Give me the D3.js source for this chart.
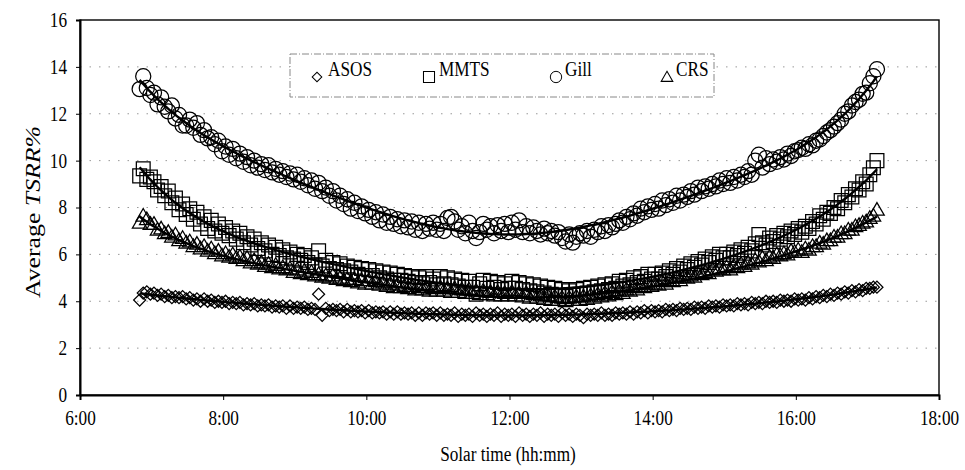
<!DOCTYPE html>
<html>
<head>
<meta charset="utf-8">
<script src="https://cdn.jsdelivr.net/npm/d3@7"></script>
<style>
  html, body { margin: 0; background: #fff; }
  svg { display: block; font-family: "Liberation Serif", "Times New Roman", serif; }
</style>
</head>
<body>
<svg id="chart" width="965" height="470"></svg>
<script>
// Three-minute solar-time stamps of the averaged records
const times = [
  "6:50","6:53","6:56","6:59",
  "7:02","7:05","7:08","7:11","7:14","7:17","7:20","7:23","7:26","7:29","7:32","7:35","7:38","7:41","7:44","7:47","7:50","7:53","7:56","7:59",
  "8:02","8:05","8:08","8:11","8:14","8:17","8:20","8:23","8:26","8:29","8:32","8:35","8:38","8:41","8:44","8:47","8:50","8:53","8:56","8:59",
  "9:02","9:05","9:08","9:11","9:14","9:17","9:20","9:23","9:26","9:29","9:32","9:35","9:38","9:41","9:44","9:47","9:50","9:53","9:56","9:59",
  "10:02","10:05","10:08","10:11","10:14","10:17","10:20","10:23","10:26","10:29","10:32","10:35","10:38","10:41","10:44","10:47","10:50","10:53","10:56","10:59",
  "11:02","11:05","11:08","11:11","11:14","11:17","11:20","11:23","11:26","11:29","11:32","11:35","11:38","11:41","11:44","11:47","11:50","11:53","11:56","11:59",
  "12:02","12:05","12:08","12:11","12:14","12:17","12:20","12:23","12:26","12:29","12:32","12:35","12:38","12:41","12:44","12:47","12:50","12:53","12:56","12:59",
  "13:02","13:05","13:08","13:11","13:14","13:17","13:20","13:23","13:26","13:29","13:32","13:35","13:38","13:41","13:44","13:47","13:50","13:53","13:56","13:59",
  "14:02","14:05","14:08","14:11","14:14","14:17","14:20","14:23","14:26","14:29","14:32","14:35","14:38","14:41","14:44","14:47","14:50","14:53","14:56","14:59",
  "15:02","15:05","15:08","15:11","15:14","15:17","15:20","15:23","15:26","15:29","15:32","15:35","15:38","15:41","15:44","15:47","15:50","15:53","15:56","15:59",
  "16:02","16:05","16:08","16:11","16:14","16:17","16:20","16:23","16:26","16:29","16:32","16:35","16:38","16:41","16:44","16:47","16:50","16:53","16:56","16:59",
  "17:02","17:05","17:08"
];

// Average TSRR% per radiation shield, one row per hour
const asos = [
  4.05,4.35,4.4,4.3,
  4.35,4.25,4.3,4.2,4.25,4.15,4.2,4.15,4.2,4.1,4.15,4.05,4.1,4.0,4.1,4.0,4.05,3.95,4.0,3.95,
  4.0,3.9,3.95,3.9,3.95,3.85,3.9,3.85,3.9,3.8,3.85,3.8,3.85,3.75,3.8,3.75,3.8,3.7,3.8,3.7,
  3.75,3.7,3.75,3.65,3.7,3.65,4.3,3.4,3.7,3.6,3.65,3.6,3.65,3.55,3.65,3.55,3.6,3.55,3.6,3.5,
  3.6,3.5,3.55,3.5,3.55,3.45,3.55,3.45,3.55,3.45,3.5,3.45,3.5,3.4,3.5,3.4,3.5,3.45,3.5,3.4,
  3.5,3.4,3.45,3.4,3.5,3.35,3.45,3.4,3.45,3.35,3.5,3.4,3.45,3.35,3.45,3.4,3.5,3.35,3.45,3.4,
  3.45,3.35,3.5,3.4,3.45,3.35,3.45,3.4,3.5,3.35,3.45,3.4,3.45,3.35,3.5,3.4,3.45,3.35,3.45,3.4,
  3.3,3.45,3.4,3.45,3.4,3.5,3.4,3.45,3.4,3.5,3.45,3.5,3.45,3.55,3.45,3.55,3.5,3.6,3.5,3.6,
  3.55,3.6,3.55,3.65,3.6,3.65,3.6,3.7,3.65,3.7,3.65,3.75,3.7,3.75,3.7,3.8,3.75,3.8,3.75,3.85,
  3.8,3.85,3.8,3.9,3.85,3.9,3.85,3.95,3.9,3.95,3.9,4.0,3.95,4.0,3.95,4.05,4.0,4.05,4.0,4.1,
  4.05,4.1,4.05,4.15,4.1,4.2,4.15,4.25,4.2,4.3,4.25,4.35,4.3,4.4,4.35,4.45,4.4,4.5,4.45,4.55,
  4.55,4.6,4.6
];

const mmts = [
  9.35,9.65,9.2,9.3,
  9.1,8.75,8.9,8.5,8.7,8.2,8.4,7.9,8.15,7.7,7.95,7.5,7.8,7.3,7.6,7.1,7.45,7.0,7.3,6.9,
  7.15,6.8,7.0,6.65,6.9,6.5,6.75,6.4,6.65,6.25,6.5,6.15,6.4,6.0,6.3,5.95,6.2,5.85,6.1,5.8,
  6.0,5.75,5.95,5.65,5.85,5.55,6.15,5.5,5.75,5.4,5.65,5.35,5.6,5.3,5.5,5.25,5.45,5.15,5.4,5.1,
  5.35,5.1,5.3,5.0,5.25,4.95,5.2,4.9,5.15,4.9,5.1,4.85,5.05,4.8,5.0,4.75,5.05,4.8,4.95,4.7,
  5.05,4.75,5.0,4.7,4.95,4.65,4.9,4.6,4.85,4.6,4.3,4.75,4.9,4.55,4.85,4.6,4.8,4.5,4.75,4.55,
  4.85,4.55,4.8,4.5,4.75,4.45,4.7,4.4,4.65,4.35,4.6,4.3,4.55,4.25,4.5,4.2,4.45,4.25,4.5,4.3,
  4.55,4.35,4.6,4.4,4.65,4.45,4.7,4.5,4.75,4.55,4.85,4.65,4.9,4.7,5.0,4.8,5.05,4.85,5.15,4.95,
  5.15,4.95,5.2,5.05,5.3,5.15,5.4,5.25,5.5,5.35,5.6,5.45,5.7,5.55,5.8,5.65,5.9,5.75,6.0,5.85,
  6.0,5.85,6.1,5.95,6.2,6.05,6.3,6.15,6.45,6.85,6.5,6.4,6.7,6.55,6.8,6.65,6.9,6.75,7.0,6.85,
  7.1,6.95,7.2,7.1,7.4,7.3,7.65,7.5,7.8,7.75,8.0,7.95,8.3,8.2,8.55,8.45,8.8,8.75,9.1,9.0,
  9.4,9.7,10.0
];

const gill = [
  13.05,13.6,13.1,12.8,
  12.9,12.4,12.7,12.3,12.1,12.35,11.8,11.95,11.5,11.5,11.75,11.4,11.6,11.1,11.3,10.95,11.0,10.7,10.85,10.4,
  10.6,10.25,10.5,10.1,10.3,9.95,10.15,9.8,10.0,9.7,9.85,9.6,9.8,9.5,9.65,9.4,9.55,9.3,9.45,9.2,
  9.4,9.1,9.25,8.95,9.15,8.8,9.05,8.7,8.85,8.5,8.7,8.3,8.5,8.15,8.35,7.95,8.2,7.85,8.05,7.75,
  7.9,7.6,7.8,7.45,7.7,7.35,7.6,7.3,7.5,7.2,7.45,7.15,7.4,7.05,7.35,7.0,7.3,7.1,7.35,7.05,
  7.3,7.0,7.55,7.6,7.4,7.05,7.2,6.9,7.35,7.0,6.7,6.95,7.3,7.05,7.2,6.9,7.25,7.0,7.3,6.95,
  7.35,7.05,7.45,6.95,7.2,6.9,7.15,7.0,6.85,7.1,6.9,7.0,6.8,6.95,6.7,6.55,6.85,6.5,6.75,6.9,
  6.8,7.0,6.75,7.05,6.95,7.2,7.0,7.25,7.15,7.3,7.45,7.35,7.6,7.5,7.75,7.65,7.95,7.8,8.05,7.9,
  8.15,7.95,8.3,8.1,8.35,8.2,8.5,8.3,8.55,8.45,8.7,8.55,8.85,8.7,8.9,8.8,9.0,8.9,9.15,9.0,
  9.25,9.05,9.3,9.15,9.4,9.3,9.55,9.4,10.0,10.25,9.7,10.1,9.85,10.05,9.95,10.15,10.05,10.3,10.2,10.4,
  10.45,10.55,10.5,10.7,10.65,10.85,10.9,11.05,11.2,11.3,11.45,11.6,11.75,12.0,12.1,12.35,12.5,12.6,12.85,12.9,
  13.3,13.6,13.9
];

const crs = [
  7.3,7.6,7.45,7.25,
  7.25,7.0,7.05,6.85,6.9,6.7,6.8,6.55,6.65,6.45,6.5,6.3,6.4,6.2,6.3,6.1,6.2,6.0,6.1,5.9,
  6.0,5.85,5.95,5.8,5.85,5.7,5.8,5.6,5.7,5.55,5.6,5.45,5.55,5.4,5.5,5.35,5.4,5.3,5.35,5.2,
  5.3,5.15,5.25,5.1,5.2,5.05,5.1,5.0,5.05,4.95,5.05,4.9,4.95,4.85,4.9,4.8,4.9,4.75,4.85,4.7,
  4.85,4.7,4.8,4.65,4.75,4.6,4.7,4.55,4.65,4.55,4.6,4.5,4.6,4.45,4.55,4.45,4.55,4.4,4.5,4.4,
  4.55,4.4,4.5,4.35,4.5,4.35,4.45,4.3,4.45,4.3,4.4,4.25,4.4,4.25,4.35,4.2,4.35,4.2,4.3,4.2,
  4.35,4.2,4.3,4.15,4.3,4.1,4.25,4.1,4.2,4.05,4.2,4.0,4.15,4.0,4.1,3.95,4.1,4.0,4.15,4.0,
  4.15,4.05,4.2,4.1,4.25,4.15,4.3,4.2,4.35,4.25,4.4,4.3,4.45,4.4,4.55,4.45,4.6,4.55,4.7,4.6,
  4.7,4.65,4.8,4.7,4.85,4.8,4.95,4.85,5.0,4.95,5.05,5.0,5.15,5.1,5.2,5.15,5.3,5.25,5.35,5.3,
  5.4,5.3,5.45,5.4,5.55,5.45,5.6,5.55,5.7,5.65,5.8,5.7,5.85,5.8,5.95,5.9,6.0,5.95,6.1,6.05,
  6.15,6.05,6.2,6.15,6.3,6.3,6.45,6.4,6.55,6.55,6.7,6.7,6.85,6.85,7.0,7.0,7.15,7.2,7.3,7.35,
  7.5,7.6,7.85
];

const seriesNames = ["ASOS", "MMTS", "Gill", "CRS"];
const seriesValues = [asos, mmts, gill, crs];
const yTicks = [0, 2, 4, 6, 8, 10, 12, 14, 16];
const xTickLabels = ["6:00", "8:00", "10:00", "12:00", "14:00", "16:00", "18:00"];

const toHours = s => { const [h, m] = s.split(":").map(Number); return h + m / 60; };

const svg = d3.select("#chart");
const plotL = 80, plotR = 939, plotT = 20, plotB = 395;
const x = d3.scaleLinear().domain([6, 18]).range([plotL, plotR]);
const y = d3.scaleLinear().domain([0, 16]).range([plotB, plotT]);

// narrow, tall lettering of the printed figure
function squeeze(sel, k) {
  sel.each(function () {
    const w = this.getComputedTextLength();
    d3.select(this).attr("textLength", w * k).attr("lengthAdjust", "spacingAndGlyphs");
  });
}

// dotted horizontal gridlines
svg.append("g")
  .selectAll("line")
  .data(yTicks.filter(v => v > 0 && v < 16))
  .join("line")
  .attr("x1", plotL).attr("x2", plotR)
  .attr("y1", d => y(d)).attr("y2", d => y(d))
  .attr("stroke", "#999").attr("stroke-width", 1)
  .attr("stroke-dasharray", "1.5,8");

// frame
svg.append("rect")
  .attr("x", plotL).attr("y", plotT)
  .attr("width", plotR - plotL).attr("height", plotB - plotT)
  .attr("fill", "none").attr("stroke", "#000").attr("stroke-width", 1.4);

// axes
const yAxis = svg.append("g")
  .attr("transform", `translate(${plotL},0)`)
  .call(d3.axisLeft(y).tickValues(yTicks).tickSize(4).tickPadding(9).tickFormat(d3.format("d")));
const xAxis = svg.append("g")
  .attr("transform", `translate(0,${plotB})`)
  .call(d3.axisBottom(x).tickValues(xTickLabels.map(toHours)).tickSize(5).tickPadding(11)
    .tickFormat((d, i) => xTickLabels[i]));
[yAxis, xAxis].forEach(g => {
  g.select(".domain").attr("stroke-width", 2);
  g.selectAll(".tick line").attr("stroke-width", 1);
  g.selectAll(".tick text").attr("font-family", "Liberation Serif").attr("font-size", 20).attr("fill", "#000");
});
xAxis.selectAll(".tick text").call(squeeze, 0.86);
yAxis.selectAll(".tick text").call(squeeze, 0.86);

// axis titles
svg.append("text")
  .attr("x", 508).attr("y", 461)
  .attr("text-anchor", "middle").attr("font-size", 20)
  .text("Solar time (hh:mm)")
  .call(squeeze, 0.86);

const yTitle = svg.append("text")
  .attr("transform", "translate(40,212) rotate(-90)")
  .attr("text-anchor", "middle").attr("font-size", 22);
yTitle.append("tspan").text("Average  ");
yTitle.append("tspan").attr("font-style", "italic").text("TSRR%");
yTitle.attr("textLength", 172).attr("lengthAdjust", "spacingAndGlyphs");

// marker shapes
const shapes = {
  ASOS: d3.symbol().type(d3.symbolSquare).size(72)(),
  MMTS: d3.symbol().type(d3.symbolSquare).size(190)(),
  Gill: d3.symbol().type(d3.symbolCircle).size(180)(),
  CRS: d3.symbol().type(d3.symbolTriangle).size(92)()
};
const rot = { ASOS: 45, MMTS: 0, Gill: 0, CRS: 0 };

// least-squares polynomial trend of each series
function polyTrend(xs, ys, deg) {
  const c = 12, s = 5.5;
  const n = deg + 1;
  const A = Array.from({ length: n }, () => new Array(n + 1).fill(0));
  xs.forEach((xv, k) => {
    const uv = (xv - c) / s;
    for (let i = 0; i < n; i++) {
      for (let j = 0; j < n; j++) A[i][j] += Math.pow(uv, i + j);
      A[i][n] += ys[k] * Math.pow(uv, i);
    }
  });
  for (let i = 0; i < n; i++) {
    let p = i;
    for (let r = i + 1; r < n; r++) if (Math.abs(A[r][i]) > Math.abs(A[p][i])) p = r;
    [A[i], A[p]] = [A[p], A[i]];
    for (let r = 0; r < n; r++) {
      if (r === i) continue;
      const f = A[r][i] / A[i][i];
      for (let col = i; col <= n; col++) A[r][col] -= f * A[i][col];
    }
  }
  const coef = A.map((row, i) => row[n] / row[i]);
  return v => coef.reduce((acc, cf, i) => acc + cf * Math.pow((v - c) / s, i), 0);
}

const hours = times.map(toHours);
const plot = svg.append("g");

seriesNames.forEach((name, si) => {
  const vals = seriesValues[si];
  const g = plot.append("g");
  g.selectAll("path.m")
    .data(vals)
    .join("path")
    .attr("class", "m")
    .attr("d", shapes[name])
    .attr("transform", (d, i) => `translate(${x(hours[i])},${y(d)}) rotate(${rot[name]})`)
    .attr("fill", "none").attr("stroke", "#000").attr("stroke-width", 1.25);

  const f = polyTrend(hours, vals, 6);
  g.append("path")
    .datum(hours)
    .attr("d", d3.line().x(h => x(h)).y(h => y(f(h))).curve(d3.curveMonotoneX))
    .attr("fill", "none").attr("stroke", "#000").attr("stroke-width", 2.4);
});

// legend
const legend = svg.append("g");
legend.append("rect")
  .attr("x", 290).attr("y", 54).attr("width", 424).attr("height", 43)
  .attr("fill", "#fff").attr("stroke", "#888").attr("stroke-width", 1)
  .attr("stroke-dasharray", "7,2,1,2");
const legendPos = [
  { name: "ASOS", mx: 317, tx: 328 },
  { name: "MMTS", mx: 429, tx: 439 },
  { name: "Gill", mx: 556, tx: 565 },
  { name: "CRS", mx: 667, tx: 676 }
];
legendPos.forEach(p => {
  legend.append("path")
    .attr("d", shapes[p.name])
    .attr("transform", `translate(${p.mx},${p.name === "CRS" ? 78 : 77}) rotate(${rot[p.name]}) scale(${p.name === "Gill" ? 0.75 : 0.8})`)
    .attr("fill", "none").attr("stroke", "#000").attr("stroke-width", 1.3);
  legend.append("text")
    .attr("x", p.tx).attr("y", 76)
    .attr("font-size", 20)
    .text(p.name)
    .call(squeeze, 0.86);
});
</script>
</body>
</html>
